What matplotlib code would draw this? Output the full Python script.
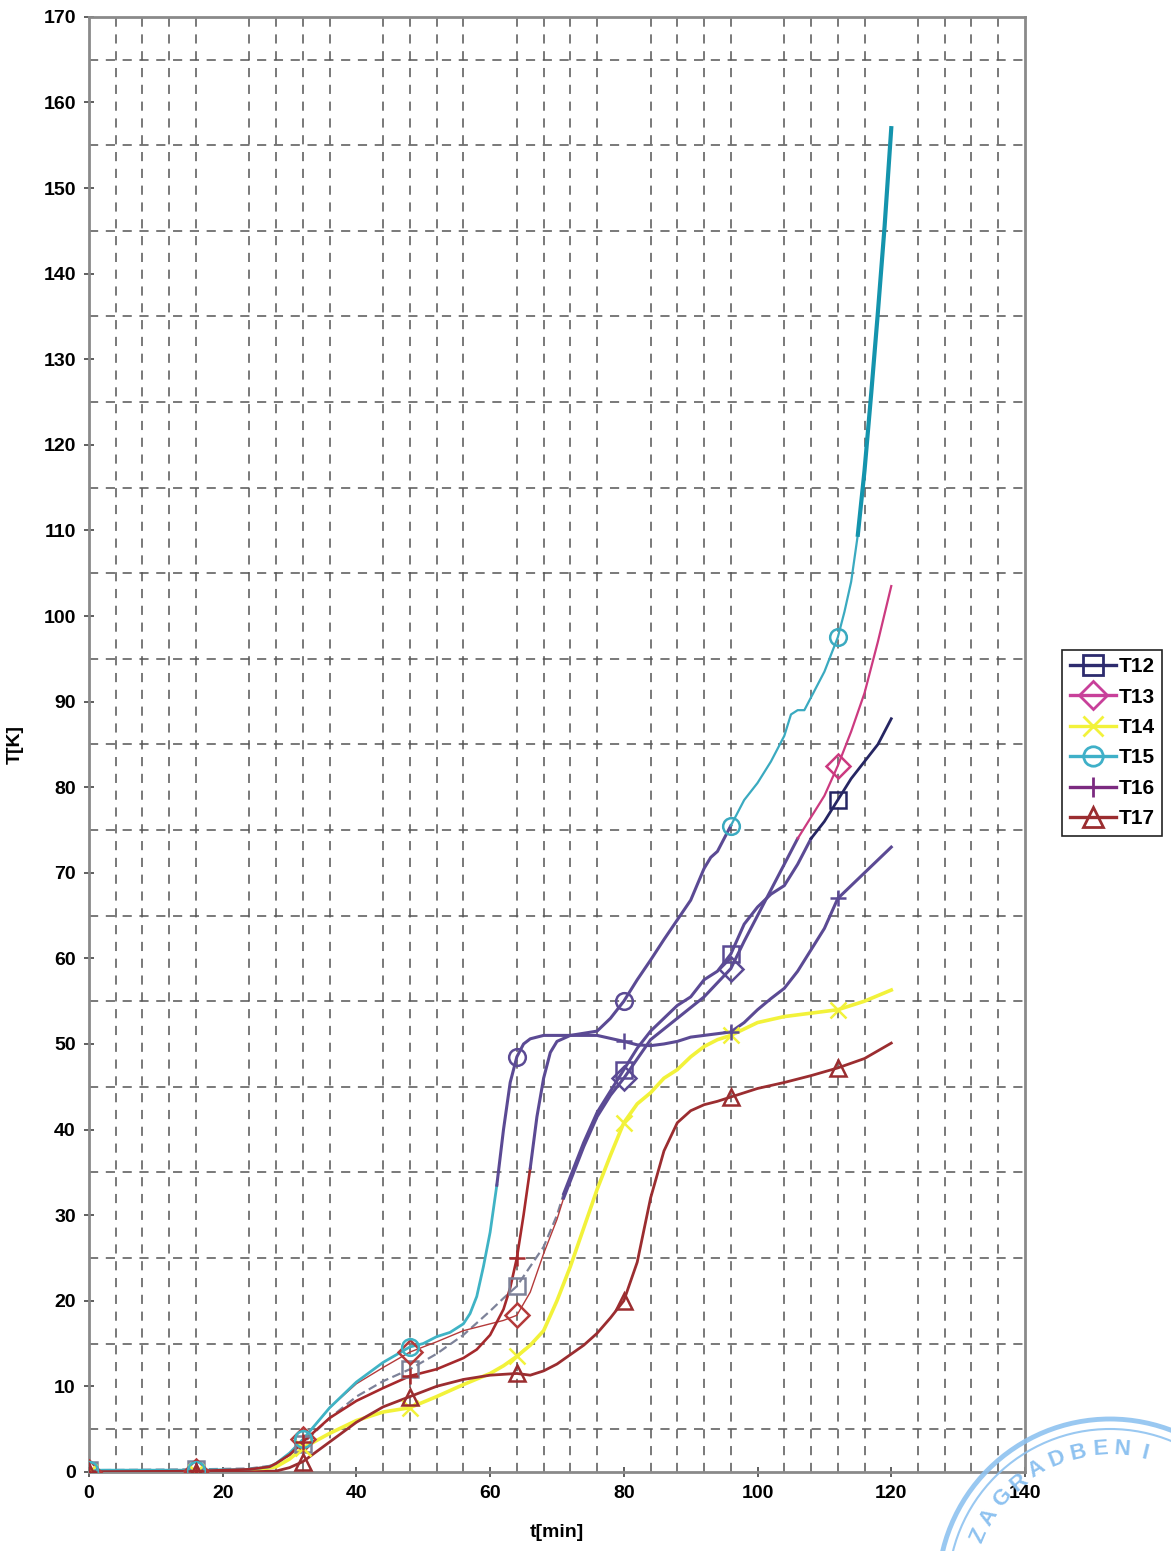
import numpy as np
import matplotlib.pyplot as plt
from matplotlib.lines import Line2D
from matplotlib.patches import Circle

plt.rcParams['font.family'] = ['Liberation Sans', 'DejaVu Sans']

t12 = [0, 16, 24, 27, 28, 30, 32, 36, 40, 44, 48, 52, 56, 60, 62, 64, 66, 68, 70, 71,
       72, 74, 76, 78, 80, 82, 84, 86, 88, 90, 92, 94, 96, 98, 100, 102, 104, 106, 108, 110,
       112, 114, 116, 118, 120]
T12 = [0.2, 0.3, 0.4, 0.7, 1.0, 2.0, 3.3, 6.3, 8.8, 10.6, 12.0, 13.8, 16.0, 18.8, 20.3, 21.7, 24.0, 26.3, 30.0, 32.5,
       34.5, 38.5, 42.0, 44.5, 47.0, 49.5, 51.5, 53.0, 54.5, 55.5, 57.5, 58.5, 60.5, 64.0, 66.0, 67.5, 68.5, 71.0, 74.0, 76.0,
       78.5, 81.0, 83.0, 85.0, 88.0]

t13 = [0, 16, 24, 27, 28, 30, 32, 36, 40, 44, 48, 52, 56, 60, 62, 64, 66, 68, 70, 71,
       72, 74, 76, 78, 80, 84, 88, 92, 96, 98, 100, 102, 104, 106, 108, 110, 112, 114, 116, 118, 120]
T13 = [0.0, 0.1, 0.3, 0.6, 1.0, 2.2, 3.8, 7.5, 10.3, 12.2, 14.0, 15.2, 16.5, 17.3, 17.7, 18.3, 21.0, 25.5, 29.5, 32.0,
       34.0, 38.0, 41.5, 44.0, 46.0, 50.5, 53.0, 55.5, 58.8, 62.0, 65.0, 68.0, 71.0, 74.0, 76.5, 79.0, 82.5, 86.5, 91.0, 97.0, 103.5]

t14 = [0, 16, 24, 28, 30, 32, 36, 40, 44, 48, 52, 56, 60, 62, 64, 66, 68, 70, 72, 74,
       76, 78, 80, 82, 84, 86, 88, 90, 92, 94, 96, 100, 104, 108, 112, 116, 120]
T14 = [0.0, 0.0, 0.1, 0.6, 1.5, 2.8, 4.5, 6.0, 7.0, 7.5, 8.8, 10.2, 11.5, 12.4, 13.5, 14.8, 16.5, 20.0, 24.0, 28.5,
       33.0, 37.0, 40.8, 43.0, 44.3, 46.0, 47.0, 48.5, 49.7, 50.5, 51.0, 52.5, 53.2, 53.6, 54.0, 55.0, 56.3]

t15 = [0, 16, 24, 27, 28, 30, 32, 36, 40, 44, 48, 50, 52, 54, 56, 57, 58, 59, 60, 61,
       62, 63, 64, 65, 66, 68, 72, 76, 78, 80, 82, 84, 86, 88, 90, 92, 93, 94, 96, 98,
       100, 102, 104, 105, 106, 107, 108, 110, 112, 113, 114, 115, 116, 117, 118, 119, 120]
T15 = [0.2, 0.2, 0.3, 0.6, 1.0, 2.2, 3.8, 7.5, 10.5, 12.8, 14.6, 15.0, 15.8, 16.3, 17.3, 18.5, 20.5, 24.0, 28.0, 33.5,
       40.0, 45.5, 48.5, 50.0, 50.6, 51.0, 51.0, 51.5, 53.0, 55.0, 57.5, 59.8, 62.2, 64.5, 66.8, 70.5, 71.8, 72.5, 75.5, 78.5,
       80.5, 83.0, 86.0, 88.5, 89.0, 89.0, 90.5, 93.5, 97.5, 100.5, 104.0, 109.5, 117.0, 126.0, 135.5, 145.5, 157.0]

t16 = [0, 16, 24, 27, 28, 30, 32, 36, 40, 44, 48, 52, 56, 58, 60, 62, 63, 64, 65, 66,
       67, 68, 69, 70, 72, 76, 80, 82, 84, 86, 88, 90, 92, 94, 96, 98, 100, 102, 104, 106,
       108, 110, 112, 114, 116, 118, 120]
T16 = [0.0, 0.1, 0.3, 0.6, 1.0, 2.0, 3.5, 6.3, 8.3, 9.8, 11.2, 12.0, 13.3, 14.3, 16.0, 19.0, 21.5, 25.0, 30.0, 35.5,
       41.5, 46.0, 49.0, 50.3, 51.0, 51.0, 50.3, 49.9, 49.8, 50.0, 50.3, 50.8, 51.0, 51.2, 51.4, 52.5, 54.0, 55.3, 56.5, 58.5,
       61.0, 63.5, 67.0, 68.5, 70.0, 71.5, 73.0]

t17 = [0, 16, 24, 28, 30, 32, 36, 40, 44, 48, 52, 56, 60, 64, 66, 68, 70, 72, 74, 76,
       78, 80, 82, 84, 86, 88, 90, 92, 94, 96, 100, 104, 108, 112, 116, 120]
T17 = [0.0, 0.0, 0.0, 0.1, 0.5, 1.2, 3.5, 5.8, 7.6, 8.8, 10.0, 10.8, 11.3, 11.5, 11.3, 11.8, 12.6, 13.7, 14.8, 16.2,
       18.0, 20.0, 24.5, 32.0, 37.5, 40.8, 42.2, 42.9, 43.3, 43.8, 44.8, 45.5, 46.3, 47.2, 48.3, 50.1]

marker_times = [0, 16, 32, 48, 64, 80, 96, 112]

names = ['T12', 'T13', 'T14', 'T15', 'T16', 'T17']
series = {'T12': (t12, T12), 'T13': (t13, T13), 'T14': (t14, T14),
          'T15': (t15, T15), 'T16': (t16, T16), 'T17': (t17, T17)}

# legend look
legend_style = {
    'T12': ('#2d2b6e', 's'),
    'T13': ('#c8409a', 'D'),
    'T14': ('#f2f23a', 'x'),
    'T15': ('#3fb0c8', 'o'),
    'T16': ('#7b2a80', '+'),
    'T17': ('#9b2d30', '^'),
}

# the scan mixes colours: each curve changes colour along its length
purple = '#5b4a94'
segments = {
    'T12': [(0, 71, '#7d8299', 1.6, (0, (4, 2))), (71, 108, purple, 2.2, '-'), (108, 120, '#262663', 2.0, '-')],
    'T13': [(0, 71, '#b43a3a', 1.0, '-'), (71, 106, purple, 2.2, '-'), (106, 120, '#cc3a80', 1.6, '-')],
    'T14': [(0, 120, '#f2f23a', 2.6, '-')],
    'T15': [(0, 61, '#3fb3c5', 2.0, '-'), (61, 96, purple, 2.2, '-'),
            (96, 115, '#3aaac0', 1.6, '-'), (115, 120, '#1494ad', 3.0, '-')],
    'T16': [(0, 66, '#a5292c', 1.9, '-'), (66, 120, purple, 2.2, '-')],
    'T17': [(0, 120, '#9b2d30', 2.0, '-')],
}

fig = plt.figure(figsize=(11.71, 15.51), dpi=100)
ax = fig.add_axes([0.076, 0.051, 0.7993, 0.9381])

for name in names:
    t, T = series[name]
    t = np.array(t)
    T = np.array(T)
    segs = segments[name]
    for a, b, col, lw, ls in segs:
        m = (t >= a) & (t <= b)
        ax.plot(t[m], T[m], color=col, lw=lw, ls=ls, zorder=3)
    mk = legend_style[name][1]
    for tm in marker_times:
        i = np.where(t == tm)[0][0]
        col = segs[-1][2]
        for a, b, c, lw, ls in segs:
            if a <= tm < b:
                col = c
                break
        ax.plot(t[i], T[i], marker=mk, ms=12, mew=1.8, mfc='none', mec=col,
                ls='none', zorder=4)

ax.set_xlim(0, 140)
ax.set_ylim(0, 170)
ax.set_xticks(np.arange(0, 141, 20))
ax.set_yticks(np.arange(0, 171, 10))
ax.set_xticks(np.arange(0, 141, 4), minor=True)
ax.set_yticks(np.arange(0, 171, 5), minor=True)
ax.grid(True, which='minor', color='#555555', ls=(0, (6, 5)), lw=1.1)
ax.tick_params(which='minor', length=0)
ax.tick_params(which='major', direction='inout', length=7, width=1.2, color='#444444',
               labelsize=14, pad=6)
for lab in ax.get_xticklabels() + ax.get_yticklabels():
    lab.set_fontweight('bold')
for sp in ax.spines.values():
    sp.set_color('#8a8a8a')
    sp.set_linewidth(2)

ax.set_xlabel('t[min]', fontsize=14, fontweight='bold', labelpad=16)
ax.set_ylabel('T[K]', fontsize=14, fontweight='bold', labelpad=14)

handles = [Line2D([0], [0], color=legend_style[n][0], marker=legend_style[n][1], ms=14, mew=2,
                  mfc='none', lw=2.4) for n in names]
leg = ax.legend(handles, names, loc='upper left', bbox_to_anchor=(1.04, 0.565),
                fancybox=False, edgecolor='#222222', framealpha=1,
                prop={'size': 15, 'weight': 'bold'}, handlelength=2.2,
                labelspacing=0.55, borderpad=0.35, handletextpad=0.15, borderaxespad=0)
leg.get_frame().set_linewidth(1.2)

# faint blue stamp in the lower right corner of the scan (only the visible part)
stamp_col = '#8ec2f0'
cx, cy = 11.10, -0.40
for r, w in [(1.72, 3.5), (1.62, 1.5)]:
    fig.add_artist(Circle((cx, cy), r, transform=fig.dpi_scale_trans, fill=False,
                          ec=stamp_col, lw=w, alpha=0.9))
word = 'GRADBENIŠTVO'
angles = np.linspace(139, 40, len(word))
letters = list(zip(word, angles)) + [('Z', 157), ('A', 148.5)]
for ch, ang in letters:
    a = np.deg2rad(ang)
    x = cx + 1.42 * np.cos(a)
    y = cy + 1.42 * np.sin(a)
    if x > 11.55 or y < 0.12:
        continue
    fig.text(x, y, ch, transform=fig.dpi_scale_trans,
             rotation=ang - 90, ha='center', va='center', fontsize=16, fontweight='bold',
             color=stamp_col)

fig.savefig('out.png', dpi=100)
